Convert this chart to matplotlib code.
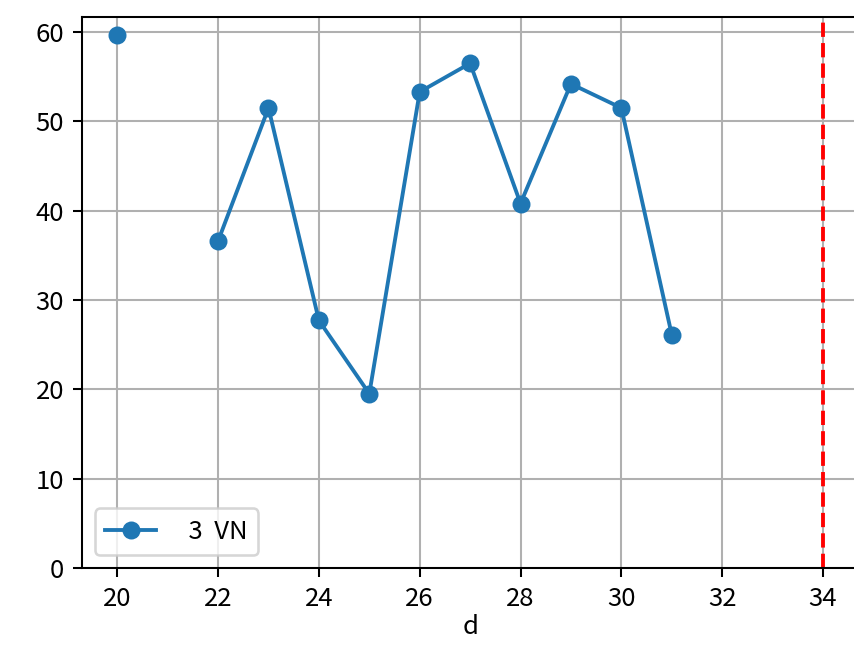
import matplotlib
matplotlib.use("Agg")
import matplotlib.pyplot as plt
import numpy as np

plt.rcParams['font.family'] = ['Noto Sans CJK JP', 'DejaVu Sans']

# values (21 has no value)
d = [20, 21, 22, 23, 24, 25, 26, 27, 28, 29, 30, 31]
vn = [59.7, np.nan, 36.6, 51.5, 27.7, 19.5, 53.3, 56.5, 40.8, 54.2, 51.5, 26.1]
limit_d = 34

dpi = 185
fig, ax = plt.subplots(figsize=(854 / dpi, 646 / dpi), dpi=dpi)
ax.plot(d, vn, marker='o', label='  3  VN')
ax.axvline(limit_d, color='red', linestyle='--', linewidth=1.5)
ax.set_ylim(bottom=0)
ax.set_xlabel('d', labelpad=1)
ax.grid(True)
ax.legend(loc='lower left')

fig.subplots_adjust(left=0.096, right=1.005, top=0.974, bottom=0.121)
fig.savefig('out.png', dpi=dpi)
